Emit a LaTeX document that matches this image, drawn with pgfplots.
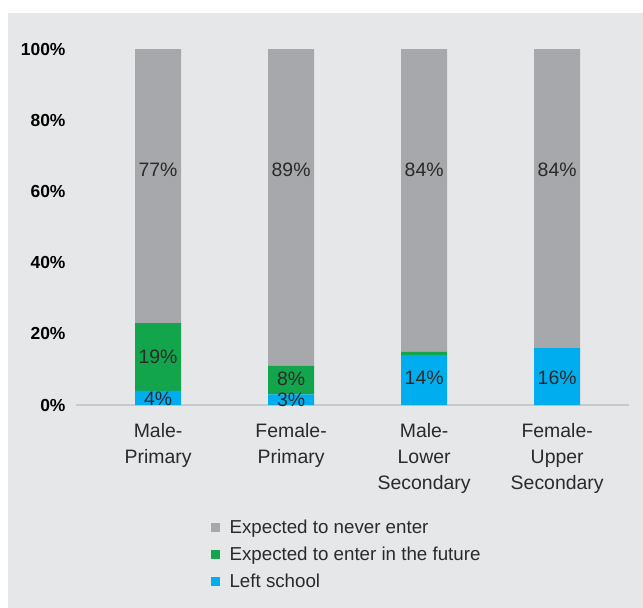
\documentclass[border=0pt]{standalone}
\usepackage{pgfplots}
\pgfplotsset{compat=1.18}
\usepackage{fontspec}
\setmainfont{Liberation Sans}
\definecolor{bg}{HTML}{E6E7E8}
\definecolor{cgray}{HTML}{A7A8AB}
\definecolor{cgreen}{HTML}{13A54B}
\definecolor{cblue}{HTML}{00AEEF}
\definecolor{txt}{HTML}{2A2A2A}
\definecolor{axl}{HTML}{C8C9CB}
\tikzset{lbl/.style={font=\fontsize{19.5}{22}\selectfont, text=txt}}
\pgfplotsset{sqlegend/.style={legend image code/.code={\fill[##1] (0bp,-4.5bp) rectangle (9bp,4.5bp);}}}
\begin{document}
\begin{tikzpicture}[x=1bp,y=1bp]
\fill[white] (0,0) rectangle (643,-608);
\fill[bg] (8,-13) rectangle (643,-608);
\begin{axis}[
  at={(76bp,-405bp)}, anchor=south west,
  scale only axis, width=553bp, height=356bp,
  xmin=-0.617, xmax=3.54, ymin=0, ymax=100,
  clip=false,
  ybar stacked, bar width=46bp,
  xtick={0,1,2,3},
  xticklabels={{Male-\\Primary},{Female-\\Primary},{Male-\\Lower\\Secondary},{Female-\\Upper\\Secondary}},
  ytick={0,20,40,60,80,100},
  yticklabels={0\%,20\%,40\%,60\%,80\%,100\%},
  major tick length=0pt,
  axis lines*=left,
  y axis line style={draw=none},
  x axis line style={draw=axl, line width=1.5bp},
  yticklabel style={font=\fontsize{17.5}{20}\selectfont\bfseries, text=black, xshift=-7bp},
  xticklabel style={font=\fontsize{19.5}{25.8}\selectfont, align=center, text=txt, yshift=-15bp},
  legend style={draw=none, fill=none, at={(0.243,-0.318)}, anchor=north west,
    font=\fontsize{18.8}{21}\selectfont, text=txt, row sep=7.5bp, inner sep=0pt,
    /tikz/every odd column/.append style={column sep=8bp}},
  legend cell align=left,
  reverse legend,
]
\addplot[fill=cblue, draw=none, sqlegend] coordinates {(0,4) (1,3) (2,14) (3,16)};
\addlegendentry{Left school}
\addplot[fill=cgreen, draw=none, sqlegend] coordinates {(0,19) (1,8) (2,1) (3,0)};
\addlegendentry{Expected to enter in the future}
\addplot[fill=cgray, draw=none, sqlegend] coordinates {(0,77) (1,89) (2,85) (3,84)};
\addlegendentry{Expected to never enter}
\coordinate (g0) at (axis cs:0,66);
\coordinate (g1) at (axis cs:1,66);
\coordinate (g2) at (axis cs:2,66);
\coordinate (g3) at (axis cs:3,66);
\coordinate (e0) at (axis cs:0,13.5);
\coordinate (e1) at (axis cs:1,7.3);
\coordinate (b0) at (axis cs:0,1.7);
\coordinate (b1) at (axis cs:1,1.4);
\coordinate (b2) at (axis cs:2,7.5);
\coordinate (b3) at (axis cs:3,7.5);
\end{axis}
\node[lbl] at (g0) {77\%};
\node[lbl] at (g1) {89\%};
\node[lbl] at (g2) {84\%};
\node[lbl] at (g3) {84\%};
\node[lbl] at (e0) {19\%};
\node[lbl] at (e1) {8\%};
\node[lbl] at (b0) {4\%};
\node[lbl] at (b1) {3\%};
\node[lbl] at (b2) {14\%};
\node[lbl] at (b3) {16\%};
\end{tikzpicture}
\end{document}
